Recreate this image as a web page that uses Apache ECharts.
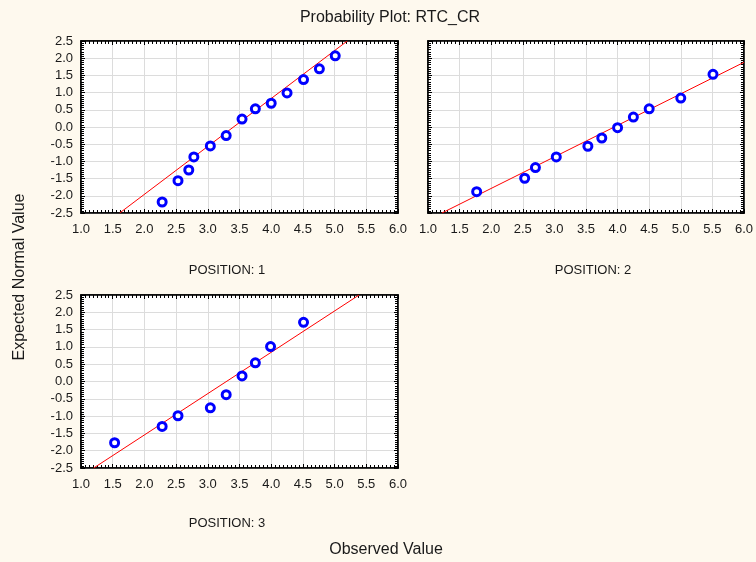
<!DOCTYPE html>
<html>
<head>
<meta charset="utf-8">
<script src="https://cdn.jsdelivr.net/npm/echarts@6/dist/echarts.min.js"></script>
<style>
  html, body { margin: 0; padding: 0; background: #fef9ee; }
  #chart { width: 756px; height: 562px; }
</style>
</head>
<body>
<div id="chart"></div>
<script>
// Observed values and expected normal scores per position
const obs1 = [2.28, 2.53, 2.70, 2.78, 3.04, 3.29, 3.54, 3.75, 4.00, 4.25, 4.51, 4.76, 5.01];
const exp1 = [-2.18, -1.56, -1.25, -0.87, -0.55, -0.25, 0.23, 0.53, 0.69, 0.99, 1.38, 1.69, 2.07];
const obs2 = [1.77, 2.53, 2.70, 3.03, 3.53, 3.75, 4.00, 4.25, 4.50, 5.00, 5.51];
const exp2 = [-1.88, -1.49, -1.18, -0.87, -0.56, -0.32, -0.02, 0.29, 0.53, 0.84, 1.53];
const obs3 = [1.53, 2.28, 2.53, 3.04, 3.29, 3.54, 3.75, 3.99, 4.51];
const exp3 = [-1.77, -1.30, -0.99, -0.76, -0.38, 0.16, 0.54, 1.01, 1.71];

// Reference line end points [observed, expected]
const fit1 = [[1.61, -2.5], [5.20, 2.5]];
const fit2 = [[1.22, -2.5], [6.0, 1.88]];
const fit3 = [[1.20, -2.5], [5.386, 2.5]];

const panelTitles = ['POSITION: 1', 'POSITION: 2', 'POSITION: 3'];
const xTicks = { min: 1.0, max: 6.0, interval: 0.5 };
const yTicks = { min: -2.5, max: 2.5, interval: 0.5 };

const font = 'Liberation Sans, Arial, sans-serif';
const textColor = '#1a1a1a';

const grids = [
  { left: 81, top: 41, width: 317, height: 172 },
  { left: 428, top: 41, width: 317, height: 172 },
  { left: 81, top: 295, width: 317, height: 173 }
];

const xAxes = [], yAxes = [], series = [];
const pairs = [[obs1, exp1, fit1], [obs2, exp2, fit2], [obs3, exp3, fit3]];

grids.forEach((g, i) => {
  g.show = true;
  g.backgroundColor = '#ffffff';
  g.borderColor = '#000';
  g.borderWidth = 1.5;
  g.containLabel = false;
  const tickCommon = () => ({
    axisTick: { show: true, inside: true, length: 4, lineStyle: { color: '#000', width: 1 } },
    minorTick: { show: true, splitNumber: 8, length: 3, lineStyle: { color: '#000', width: 1 } },
    axisLine: { show: true, onZero: false, lineStyle: { color: '#000', width: 1.5 } }
  });
  // bottom x axis with labels
  xAxes.push(Object.assign({
    gridIndex: i, type: 'value', position: 'bottom',
    min: xTicks.min, max: xTicks.max, interval: xTicks.interval,
    axisLabel: { color: textColor, fontFamily: font, fontSize: 13, margin: 10, formatter: v => v.toFixed(1) },
    splitLine: { show: true, lineStyle: { color: '#dcdcdc', width: 1 } }
  }, tickCommon()));
  // top x axis (ticks only)
  xAxes.push(Object.assign({
    gridIndex: i, type: 'value', position: 'top',
    min: xTicks.min, max: xTicks.max, interval: xTicks.interval,
    axisLabel: { show: false }, splitLine: { show: false }
  }, tickCommon()));
  // left y axis
  yAxes.push(Object.assign({
    gridIndex: i, type: 'value', position: 'left',
    min: yTicks.min, max: yTicks.max, interval: yTicks.interval,
    axisLabel: { show: i !== 1, color: textColor, fontFamily: font, fontSize: 13, margin: 8, formatter: v => v.toFixed(1) },
    splitLine: { show: true, lineStyle: { color: '#dcdcdc', width: 1 } }
  }, tickCommon()));
  // right y axis (ticks only)
  yAxes.push(Object.assign({
    gridIndex: i, type: 'value', position: 'right',
    min: yTicks.min, max: yTicks.max, interval: yTicks.interval,
    axisLabel: { show: false }, splitLine: { show: false }
  }, tickCommon()));

  const [obs, exp, fit] = pairs[i];
  series.push({
    type: 'line', xAxisIndex: i * 2, yAxisIndex: i * 2,
    data: fit, showSymbol: false, clip: true, silent: true,
    lineStyle: { color: '#ff0000', width: 1 }, z: 3
  });
  series.push({
    type: 'scatter', xAxisIndex: i * 2, yAxisIndex: i * 2,
    data: obs.map((x, k) => [x, exp[k]]),
    symbol: 'circle', symbolSize: 8,
    itemStyle: { color: '#ffffff', borderColor: '#0000ff', borderWidth: 3, opacity: 1 },
    z: 4
  });
});

const chart = echarts.init(document.getElementById('chart'), null, { renderer: 'canvas' });
chart.setOption({
  backgroundColor: '#fef9ee',
  animation: false,
  grid: grids,
  xAxis: xAxes,
  yAxis: yAxes,
  series: series,
  graphic: [
    { type: 'text', style: { text: 'Probability Plot: RTC_CR', fill: textColor, font: '16px ' + font, x: 390, y: 18, textAlign: 'center', textVerticalAlign: 'middle' } },
    { type: 'text', style: { text: panelTitles[0], fill: textColor, font: '13px ' + font, x: 227, y: 270, textAlign: 'center', textVerticalAlign: 'middle' } },
    { type: 'text', style: { text: panelTitles[1], fill: textColor, font: '13px ' + font, x: 593, y: 270, textAlign: 'center', textVerticalAlign: 'middle' } },
    { type: 'text', style: { text: panelTitles[2], fill: textColor, font: '13px ' + font, x: 227, y: 523, textAlign: 'center', textVerticalAlign: 'middle' } },
    { type: 'text', style: { text: 'Observed Value', fill: textColor, font: '16px ' + font, x: 386, y: 550, textAlign: 'center', textVerticalAlign: 'middle' } },
    { type: 'text', x: 20, y: 277, rotation: Math.PI / 2, style: { text: 'Expected Normal Value', fill: textColor, font: '16px ' + font, x: 0, y: 0, textAlign: 'center', textVerticalAlign: 'middle' } }
  ]
});
</script>
</body>
</html>
